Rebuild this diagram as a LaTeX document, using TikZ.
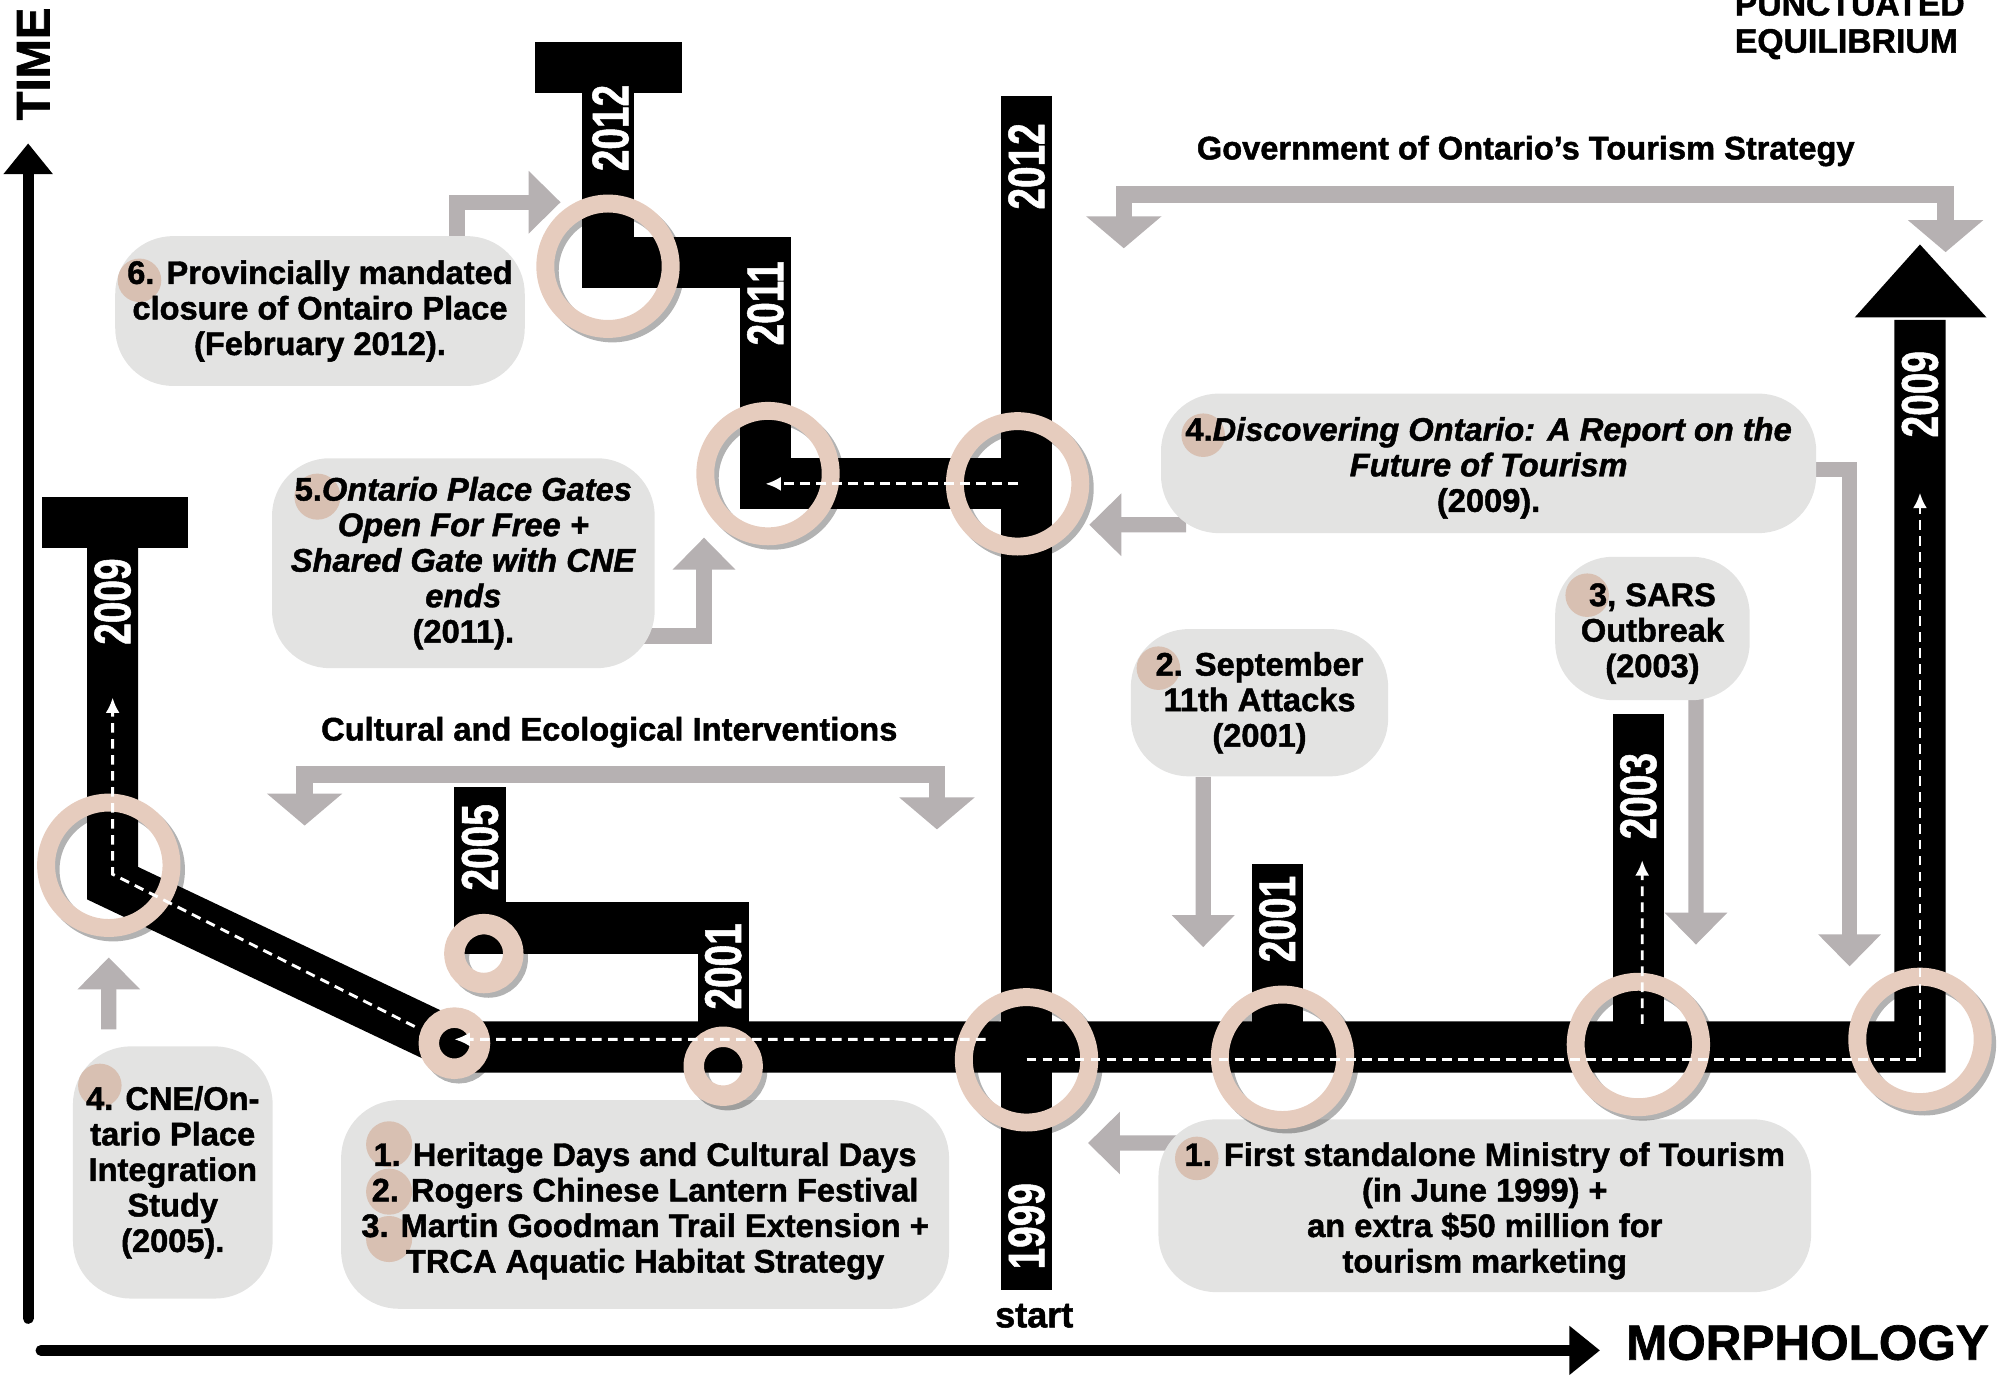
\documentclass[tikz,border=0pt]{standalone}
\usepackage{fontspec}
\setmainfont{Liberation Sans}[BoldFeatures={FakeBold=1.4}, BoldItalicFeatures={FakeBold=1.4}]
\newfontfamily\yearfont{Liberation Sans}[FakeStretch=0.75, BoldFeatures={FakeBold=1}]
\usetikzlibrary{arrows.meta}
\definecolor{ring_peach}{RGB}{230, 204, 190}
\definecolor{box_grey}{RGB}{227, 227, 226}
\definecolor{arrow_grey}{RGB}{182, 177, 178}
\definecolor{dot_tan}{RGB}{216, 192, 178}
\pgfdeclarelayer{background}
\pgfsetlayers{background,main}
\tikzstyle{track} = [line width=0.8cm, black]
\tikzstyle{ring} = [circle, draw=ring_peach, line width=0.28cm, minimum size=1.96cm, inner sep=0pt]
\tikzstyle{smallring} = [circle, draw=ring_peach, line width=0.32cm, minimum size=0.92cm, inner sep=0pt]
\tikzstyle{ringshade} = [draw=black, opacity=0.3, xshift=0.07cm, yshift=-0.07cm]
\tikzstyle{note} = [rectangle, rounded corners=0.9cm, fill=box_grey, inner sep=0pt]
\tikzstyle{notetext} = [align=center, inner sep=0pt, font=\bfseries\fontsize{14.5}{15.8}\selectfont]
\tikzstyle{heading} = [inner sep=0pt, font=\bfseries\fontsize{14.5}{15.8}\selectfont]
\tikzstyle{year} = [rotate=90, inner sep=0pt, text=white, font=\yearfont\bfseries\fontsize{23}{23}\selectfont]
\tikzstyle{numberdot} = [fill=dot_tan]
\tikzstyle{greyarrow} = [line width=0.24cm, arrow_grey, -{Triangle[length=0.5cm, width=0.95cm]}]
\tikzstyle{greybracket} = [line width=0.26cm, arrow_grey, {Triangle[length=0.5cm, width=1.15cm]}-{Triangle[length=0.5cm, width=1.15cm]}]
\tikzstyle{flow} = [white, line width=0.045cm, dash pattern=on 0.15cm off 0.1cm, -{Latex[length=0.24cm, width=0.22cm]}]
\tikzstyle{axis} = [line width=0.17cm, line cap=round, -{Triangle[length=0.48cm, width=0.74cm]}]

\begin{document}
\begin{tikzpicture}[x=0.02cm, y=-0.02cm]
    \useasboundingbox (0,0) rectangle (1568,1075);

    \node[note, minimum width=6.4cm, minimum height=2.34cm] (closure) at (250,243) {};
    \fill[numberdot] (109,219) circle (17);
    \node[notetext] (closuretext) at (closure) {6. Provincially mandated\\closure of Ontairo Place\\(February 2012).};

    \node[note, minimum width=5.98cm, minimum height=3.28cm] (gates) at (362,440) {};
    \fill[numberdot] (248,388) circle (18);
    \node[notetext] (gatestext) at (gates) {5.\textit{Ontario Place Gates}\\\textit{Open For Free +}\\\textit{Shared Gate with CNE}\\\textit{ends}\\(2011).};

    \node[note, minimum width=3.12cm, minimum height=3.94cm] (cnestudy) at (135,916) {};
    \fill[numberdot] (78,848) circle (17);
    \node[notetext] (cnestudytext) at (cnestudy) {4. CNE/On-\\tario Place\\Integration\\Study\\(2005).};

    \node[note, minimum width=9.5cm, minimum height=3.26cm] (heritage) at (504,941) {};
    \fill[numberdot] (304,894) circle (18);
    \fill[numberdot] (304,931) circle (18);
    \fill[numberdot] (304,968) circle (18);
    \node[notetext] (heritagetext) at ([yshift=-0.1cm]heritage.center) {1. Heritage Days and Cultural Days\\2. Rogers Chinese Lantern Festival\\3. Martin Goodman Trail Extension +\\TRCA Aquatic Habitat Strategy};

    \node[note, minimum width=4.02cm, minimum height=2.3cm] (september) at (984,549) {};
    \fill[numberdot] (905,522) circle (17);
    \node[notetext] (septembertext) at (september) {2. September\\11th Attacks\\(2001)};

    \node[note, minimum width=3.04cm, minimum height=2.24cm] (sars) at (1291,491) {};
    \fill[numberdot] (1240,465) circle (17);
    \node[notetext] (sarstext) at ([yshift=-0.08cm]sars.center) {3, SARS\\Outbreak\\(2003)};

    \node[note, minimum width=10.2cm, minimum height=2.7cm] (ministry) at (1160,942) {};
    \fill[numberdot] (935,905) circle (17);
    \node[notetext] (ministrytext) at ([yshift=-0.08cm]ministry.center) {1. First standalone Ministry of Tourism\\(in June 1999) +\\an extra \$50 million for\\tourism marketing};

    \node[note, minimum width=10.24cm, minimum height=2.18cm] (report) at (1163,362) {};
    \fill[numberdot] (940,340) circle (17);
    \node[notetext] (reporttext) at ([yshift=-0.07cm]report.center) {4.\textit{Discovering Ontario: A Report on the}\\\textit{Future of Tourism}\\(2009).};

    \node[heading] (strategy) at (1192,118) {Government of Ontario’s Tourism Strategy};
    \node[heading] (interventions) at (476,572) {Cultural and Ecological Interventions};

    \begin{pgfonlayer}{background}
        \coordinate (closuretip) at (438,158);
        \coordinate (gatestip) at (550,420);
        \coordinate (cnetip) at (85,748);
        \coordinate (septembertip) at (940,740);
        \coordinate (sarstip) at (1325,738);
        \coordinate (ministrytip) at (850,893);
        \coordinate (reporttip) at (851,410);
        \coordinate (reportdowntip) at (1445,755);
        \coordinate (strategyleft) at (878,194);
        \coordinate (strategyright) at (1520,197);
        \coordinate (interventionsleft) at (238,645);
        \coordinate (interventionsright) at (732,648);

        \draw[greyarrow] ([xshift=2.14cm]closure.north) |- (closuretip);
        \draw[greyarrow] ([yshift=-1.14cm, xshift=-0.3cm]gates.east) -| (gatestip);
        \draw[greyarrow] ([xshift=-1cm, yshift=0.26cm]cnestudy.north) -- (cnetip);
        \draw[greyarrow] ([xshift=-0.88cm]september.south) -- (septembertip);
        \draw[greyarrow] ([xshift=0.68cm, yshift=0.1cm]sars.south) -- (sarstip);
        \draw[greyarrow] ([yshift=0.98cm, xshift=0.4cm]ministry.west) -- (ministrytip);
        \draw[greyarrow] ([yshift=-0.96cm, xshift=0.4cm]report.west) -- (reporttip);
        \draw[greyarrow] ([yshift=-0.1cm, xshift=-0.3cm]report.east) -| (reportdowntip);
        \draw[greybracket] (strategyleft) -- ++(0,-42) -| (strategyright);
        \draw[greybracket] (interventionsleft) -- ++(0,-40) -| (interventionsright);
    \end{pgfonlayer}

    \draw[track] (88,408) -- (88,690) -- (358,818) -- (1500,818) -- (1500,250);
    \fill (33,388) rectangle (147,428);
    \fill (1449,248) -- (1552,248) -- (1500,191) -- cycle;
    \draw[track] (802,75) -- (802,1008);
    \draw[track] (802,378) -- (598,378) -- (598,205) -- (475,205) -- (475,53);
    \fill (418,33) rectangle (533,73);
    \draw[track] (565,818) -- (565,725) -- (375,725) -- (375,615);
    \draw[track] (998,818) -- (998,675);
    \draw[track] (1280,818) -- (1280,558);

    \node[year] (yeartwelve) at (802,130) {2012};
    \node[year] (yearstart) at (802,958) {1999};
    \node[year] (yearclosure) at (477,100) {2012};
    \node[year] (yeargates) at (598,237) {2011};
    \node[year] (yearcne) at (88,470) {2009};
    \node[year] (yearlantern) at (375,662) {2005};
    \node[year] (yeartrail) at (565,755) {2001};
    \node[year] (yearseptember) at (998,718) {2001};
    \node[year] (yearsars) at (1280,622) {2003};
    \node[year] (yeargrowth) at (1500,308) {2009};

    \node[ring, ringshade] (ringcneshade) at (85,676) {};
    \node[ring] (ringcne) at (85,676) {};
    \node[ring, ringshade] (ringstartshade) at (802,828) {};
    \node[ring] (ringstart) at (802,828) {};
    \node[ring, ringshade] (ringseptembershade) at (1002,826) {};
    \node[ring] (ringseptember) at (1002,826) {};
    \node[ring, ringshade] (ringsarsshade) at (1280,816) {};
    \node[ring] (ringsars) at (1280,816) {};
    \node[ring, ringshade] (ringgrowthshade) at (1500,812) {};
    \node[ring] (ringgrowth) at (1500,812) {};
    \node[ring, ringshade] (ringreportshade) at (795,378) {};
    \node[ring] (ringreport) at (795,378) {};
    \node[ring, ringshade] (ringgatesshade) at (600,370) {};
    \node[ring] (ringgates) at (600,370) {};
    \node[ring, ringshade] (ringclosureshade) at (475,208) {};
    \node[ring] (ringclosure) at (475,208) {};
    \node[smallring, ringshade, minimum size=0.8cm] (ringdiagonalshade) at (355,815) {};
    \node[smallring, minimum size=0.8cm] (ringdiagonal) at (355,815) {};
    \node[smallring, ringshade] (ringlanternshade) at (378,745) {};
    \node[smallring] (ringlantern) at (378,745) {};
    \node[smallring, ringshade] (ringtrailshade) at (565,833) {};
    \node[smallring] (ringtrail) at (565,833) {};

    \coordinate (growthtip) at (1500,385);
    \coordinate (westflow) at (770,812);
    \coordinate (diagonalflow) at (324,802);
    \coordinate (pastflowtip) at (88,545);
    \coordinate (sarsflowtip) at (1283,672);
    \coordinate (gatesflowtip) at (598,378);
    \draw[flow] (ringstart.center) -| (growthtip);
    \draw[flow] (westflow) -- ([yshift=0.06cm]ringdiagonal.center);
    \draw[flow] (diagonalflow) -- ([xshift=0.06cm, yshift=-0.14cm]ringcne.center) -- (pastflowtip);
    \draw[flow] ([xshift=0.06cm, yshift=0.32cm]ringsars.center) -- (sarsflowtip);
    \draw[flow] (ringreport.center) -- (gatesflowtip);

    \coordinate (timefoot) at (22,1030);
    \coordinate (timetip) at (22,112);
    \coordinate (morphfoot) at (32,1055);
    \coordinate (morphtip) at (1250,1055);
    \draw[axis] (timefoot) -- (timetip);
    \draw[axis] (morphfoot) -- (morphtip);

    \node[rotate=90, inner sep=0pt, font=\bfseries\fontsize{21}{21}\selectfont] (time) at (26,50) {TIME};
    \node[anchor=west, inner sep=0pt, font=\bfseries\fontsize{22}{22}\selectfont] (morphology) at (1270,1049) {MORPHOLOGY};
    \node[inner sep=0pt, font=\bfseries\fontsize{16}{16}\selectfont] (start) at (808,1028) {start};
    \node[anchor=west, align=left, inner sep=0pt, font=\bfseries\fontsize{15}{16.5}\selectfont] (punctuated) at (1355,20) {PUNCTUATED\\EQUILIBRIUM};
\end{tikzpicture}
\end{document}
